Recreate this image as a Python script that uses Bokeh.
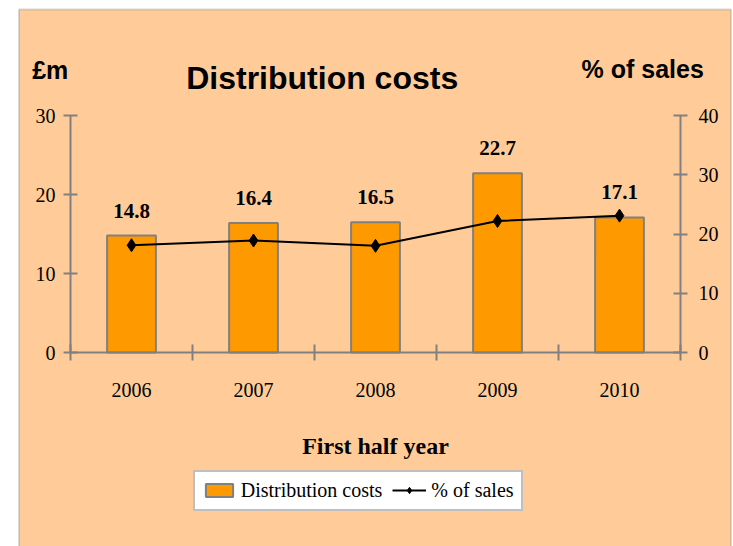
from bokeh.plotting import figure
from bokeh.models import (Range1d, LinearAxis, FixedTicker, Legend, LegendItem,
                          Label, BoxAnnotation, ColumnDataSource)
from bokeh.core.properties import value
from bokeh.embed import file_html
from bokeh.resources import INLINE

# ---- data ----
years = ["2006", "2007", "2008", "2009", "2010"]
costs = [14.8, 16.4, 16.5, 22.7, 17.1]          # £m, left axis
pct_sales = [18.1, 18.9, 18.0, 22.2, 23.1]      # % of sales, right axis
left_ticks = [0, 10, 20, 30]
right_ticks = [0, 10, 20, 30, 40]
LEFT_MAX, RIGHT_MAX = 30, 40

PEACH = "#FFCC99"
ORANGE = "#FF9900"
GRAY = "#808080"
SERIF = "Liberation Serif"
SANS = "Liberation Sans"

# ---- layout (pixels in the 733x546 canvas) ----
W, H = 733, 546
AX_L, AX_R, AX_TOP, AX_BOT = 70, 680, 115, 352
n = len(years)
kx = (AX_R - AX_L) / n               # px per category
ky = (AX_BOT - AX_TOP) / LEFT_MAX    # px per £m
ky2 = (AX_BOT - AX_TOP) / RIGHT_MAX  # px per %


def dx(px):
    return (px - AX_L) / kx


def dy(py):
    return (AX_BOT - py) / ky


xc = [i + 0.5 for i in range(n)]
src = ColumnDataSource(dict(x=xc, cost=costs, pct=pct_sales,
                            lab=[f"{v:.1f}" for v in costs]))

p = figure(width=W, height=H, output_backend="svg", toolbar_location=None,
           x_range=Range1d(dx(0), dx(W)), y_range=Range1d(dy(H), dy(0)),
           min_border=0, x_axis_type=None, y_axis_type=None)
p.extra_y_ranges = {"pct": Range1d(-(H - AX_BOT) / ky2, AX_BOT / ky2)}
p.border_fill_color = "white"
p.background_fill_color = "white"
p.outline_line_color = None
p.xgrid.visible = False
p.ygrid.visible = False

# peach chart area with grey frame
p.add_layout(BoxAnnotation(left=dx(18.5), right=dx(730.5), top=dy(9), bottom=dy(H + 20),
                           fill_color=PEACH, fill_alpha=1.0,
                           line_color=GRAY, line_width=2, level="underlay"))

# axes (fixed inside the frame)
yl = LinearAxis(ticker=FixedTicker(ticks=left_ticks), bounds=(0, LEFT_MAX),
                fixed_location=0)
yr = LinearAxis(y_range_name="pct", ticker=FixedTicker(ticks=right_ticks),
                bounds=(0, RIGHT_MAX), fixed_location=n)
xa = LinearAxis(ticker=FixedTicker(ticks=xc, minor_ticks=list(range(n + 1))),
                major_label_overrides={x: y for x, y in zip(xc, years)},
                bounds=(0, n), fixed_location=0)
for ax in (yl, yr, xa):
    ax.axis_line_color = GRAY
    ax.axis_line_width = 2
    ax.major_tick_line_color = GRAY
    ax.major_tick_line_width = 2
    ax.minor_tick_line_color = None
    ax.major_label_text_font = SERIF
    ax.major_label_text_font_size = "20px"
    ax.major_label_text_color = "black"
    ax.major_tick_in = 7
    ax.major_tick_out = 7
yl.major_label_standoff = 8
yr.major_label_standoff = 11
xa.major_tick_line_color = None
xa.major_tick_out = 8
xa.major_tick_in = 0
xa.minor_tick_line_color = GRAY
xa.minor_tick_line_width = 2
xa.minor_tick_in = 8
xa.minor_tick_out = 8
xa.major_label_standoff = 22
p.add_layout(yl, "left")
p.add_layout(yr, "right")
p.add_layout(xa, "below")

# bars, labels, line
bars = p.vbar(x="x", top="cost", width=0.4, source=src, fill_color=ORANGE,
              line_color=GRAY, line_width=2)
p.text(x="x", y="cost", text="lab", source=src, text_align="center",
       text_baseline="middle", y_offset=-25, text_font=value(SERIF),
       text_font_style="bold", text_font_size="21px", text_color="black")
ln = p.line(x="x", y="pct", source=src, y_range_name="pct",
            line_color="black", line_width=2)
mk = p.scatter(x="x", y="pct", source=src, y_range_name="pct", marker="diamond",
               size=13, fill_color="black", line_color="black")

# titles
def lab(text, px, py, align, size, font=SANS):
    p.add_layout(Label(x=dx(px), y=dy(py), text=text, text_align=align,
                       text_baseline="alphabetic", text_font=font,
                       text_font_style="bold", text_font_size=size,
                       text_color="black"))


lab("Distribution costs", 321.7, 77.3, "center", "32px")
lab("£m", 31.7, 69, "left", "25px")
lab("% of sales", 703.3, 68.5, "right", "25px")
lab("First half year", 375, 445, "center", "24px", SERIF)

# legend
legend = Legend(items=[LegendItem(label="Distribution costs", renderers=[bars]),
                       LegendItem(label="% of sales", renderers=[ln, mk])],
                orientation="horizontal", location=(192.7, H - 510.7), margin=0,
                padding=7, spacing=10, label_standoff=5,
                glyph_width=34, glyph_height=16,
                label_text_font=SERIF, label_text_font_size="20px",
                label_text_color="black",
                background_fill_color="white", background_fill_alpha=1.0,
                border_line_color=GRAY, border_line_width=2)
p.add_layout(legend, "center")

open("out.html", "w").write(file_html(p, INLINE))
